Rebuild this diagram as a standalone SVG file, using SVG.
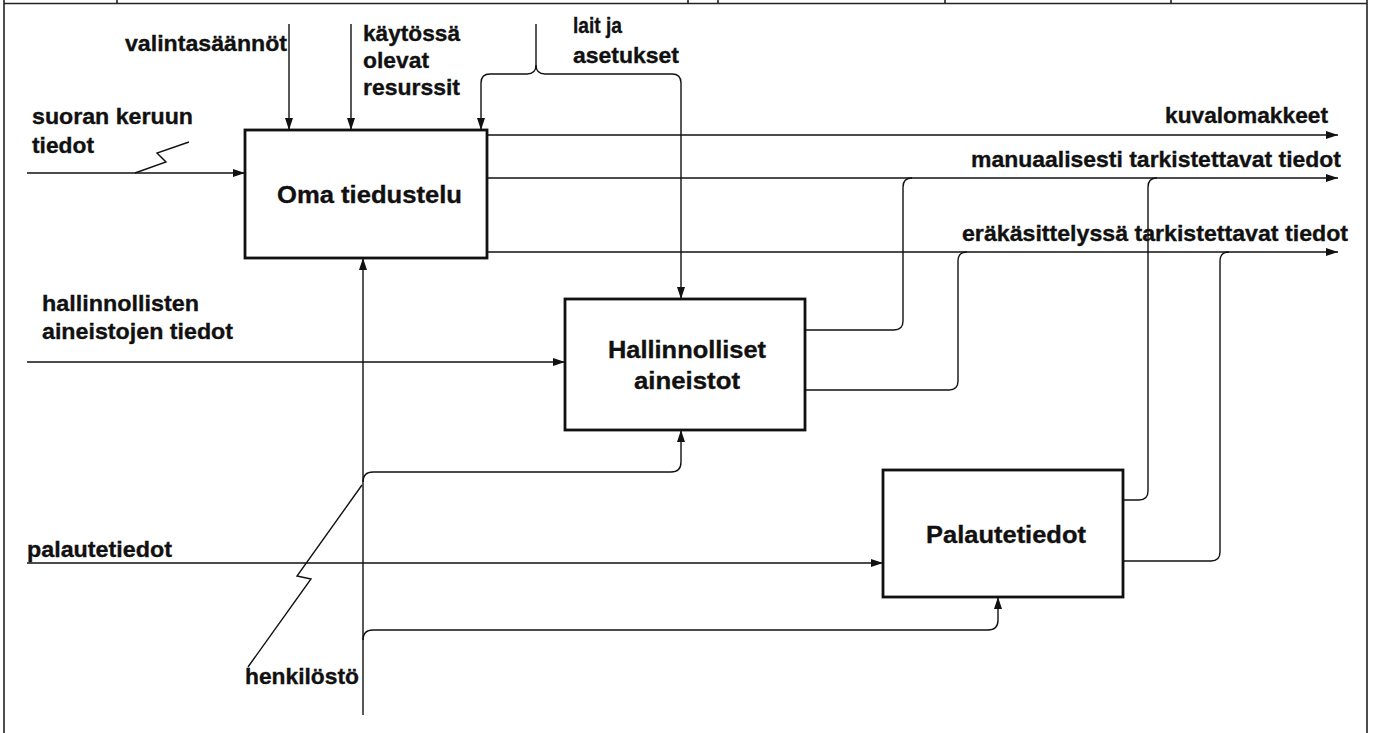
<svg xmlns="http://www.w3.org/2000/svg" width="1373" height="733" viewBox="0 0 1373 733">
<style>
text{font-family:"Liberation Sans",Arial,sans-serif;font-weight:bold;fill:#111;stroke:#111;stroke-width:0.35}
.lbl{font-size:22.5px}
.ttl{font-size:24.5px}
.box{fill:#fff;stroke:#111;stroke-width:2.8}
.c{fill:none;stroke:#111;stroke-width:1.4}
.f{fill:none;stroke:#222;stroke-width:1.6}
</style>
<defs>
<marker id="ah" markerUnits="userSpaceOnUse" markerWidth="13" markerHeight="9" refX="12" refY="4" orient="auto">
<path d="M0,0 L12,4 L0,8 z" fill="#111"/>
</marker>
</defs>
<rect width="1373" height="733" fill="#fff"/>
<g id="frame">
<path class="f" d="M4,0 V733 M1367,0 V733 M4,3.5 H1367 M117,0 V3.5 M688,0 V3.5 M718,0 V3.5 M945,0 V3.5 M1171,0 V3.5"/>
</g>
<g id="connectors">
<path class="c" d="M27,173 H245" marker-end="url(#ah)"/>
<path class="c" d="M135,173 L166,162 L157,153 L189,142"/>
<path class="c" d="M289,24 V130" marker-end="url(#ah)"/>
<path class="c" d="M351,24 V130" marker-end="url(#ah)"/>
<path class="c" d="M536,24 V65 Q536,74 527,74 H490 Q481,74 481,83 V130" marker-end="url(#ah)"/>
<path class="c" d="M536,65 Q536,74 545,74 H672 Q681,74 681,83 V299" marker-end="url(#ah)"/>
<path class="c" d="M487,135 H1338" marker-end="url(#ah)"/>
<path class="c" d="M487,178 H1338" marker-end="url(#ah)"/>
<path class="c" d="M487,252 H1338" marker-end="url(#ah)"/>
<path class="c" d="M805,330 H894 Q903,330 903,321 V187 Q903,178 912,178"/>
<path class="c" d="M805,390 H949 Q958,390 958,381 V261 Q958,252 967,252"/>
<path class="c" d="M1123,500 H1139 Q1148,500 1148,491 V187 Q1148,178 1157,178"/>
<path class="c" d="M1123,561 H1211 Q1220,561 1220,552 V261 Q1220,252 1229,252"/>
<path class="c" d="M27,362 H565" marker-end="url(#ah)"/>
<path class="c" d="M27,563 H883" marker-end="url(#ah)"/>
<path class="c" d="M363,715 V258" marker-end="url(#ah)"/>
<path class="c" d="M363,482 Q363,472 373,472 H671 Q681,472 681,462 V430" marker-end="url(#ah)"/>
<path class="c" d="M363,640 Q363,630 373,630 H988 Q998,630 998,620 V597" marker-end="url(#ah)"/>
<path class="c" d="M248,667 L311,579 L297,576 L362,485"/>
</g>
<g id="labels">
<text class="lbl" x="125" y="51" textLength="162" lengthAdjust="spacingAndGlyphs">valintasäännöt</text>
<text class="lbl" x="363" y="41" textLength="97" lengthAdjust="spacingAndGlyphs">käytössä</text>
<text class="lbl" x="363" y="68" textLength="66" lengthAdjust="spacingAndGlyphs">olevat</text>
<text class="lbl" x="363" y="95" textLength="97" lengthAdjust="spacingAndGlyphs">resurssit</text>
<text class="lbl" x="573" y="33" textLength="49" lengthAdjust="spacingAndGlyphs">lait ja</text>
<text class="lbl" x="573" y="63" textLength="106" lengthAdjust="spacingAndGlyphs">asetukset</text>
<text class="lbl" x="32" y="124" textLength="161" lengthAdjust="spacingAndGlyphs">suoran keruun</text>
<text class="lbl" x="32" y="153" textLength="62" lengthAdjust="spacingAndGlyphs">tiedot</text>
<text class="lbl" x="1165" y="123" textLength="163" lengthAdjust="spacingAndGlyphs">kuvalomakkeet</text>
<text class="lbl" x="971" y="167" textLength="370" lengthAdjust="spacingAndGlyphs">manuaalisesti tarkistettavat tiedot</text>
<text class="lbl" x="962" y="241" textLength="386" lengthAdjust="spacingAndGlyphs">eräkäsittelyssä tarkistettavat tiedot</text>
<text class="lbl" x="42" y="311" textLength="157" lengthAdjust="spacingAndGlyphs">hallinnollisten</text>
<text class="lbl" x="42" y="339" textLength="191" lengthAdjust="spacingAndGlyphs">aineistojen tiedot</text>
<text class="lbl" x="27" y="557" textLength="145" lengthAdjust="spacingAndGlyphs">palautetiedot</text>
<text class="lbl" x="245" y="684" textLength="114" lengthAdjust="spacingAndGlyphs">henkilöstö</text>
</g>
<g id="node-oma">
<rect class="box" x="245" y="130" width="242" height="128"/>
<text class="ttl" x="277" y="203" textLength="185" lengthAdjust="spacingAndGlyphs">Oma tiedustelu</text>
</g>
<g id="node-hallinnolliset">
<rect class="box" x="565" y="299" width="240" height="131"/>
<text class="ttl" x="608" y="358" textLength="158" lengthAdjust="spacingAndGlyphs">Hallinnolliset</text>
<text class="ttl" x="634" y="389" textLength="106" lengthAdjust="spacingAndGlyphs">aineistot</text>
</g>
<g id="node-palautetiedot">
<rect class="box" x="883" y="470" width="240" height="127"/>
<text class="ttl" x="926" y="543" textLength="160" lengthAdjust="spacingAndGlyphs">Palautetiedot</text>
</g>
</svg>
